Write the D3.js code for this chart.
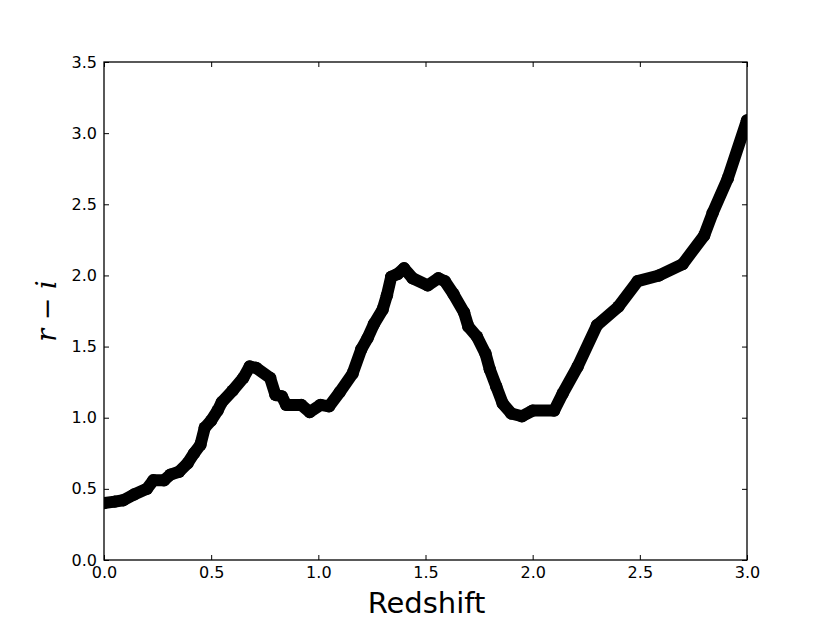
<!DOCTYPE html>
<html><head><meta charset="utf-8">
<script src="https://cdn.jsdelivr.net/npm/d3@7"></script>
<style>body{margin:0;background:#fff}svg{display:block}</style>
</head><body>
<script>
const redshift = [0.00,0.05,0.09,0.14,0.20,0.23,0.28,0.31,0.35,0.39,0.42,0.45,0.47,0.50,0.53,0.55,0.60,0.65,0.68,0.71,0.775,0.80,0.83,0.85,0.92,0.96,1.01,1.05,1.10,1.16,1.20,1.23,1.26,1.30,1.32,1.34,1.37,1.40,1.44,1.51,1.56,1.59,1.63,1.68,1.70,1.74,1.78,1.80,1.83,1.86,1.90,1.95,2.00,2.10,2.14,2.21,2.30,2.40,2.49,2.59,2.70,2.80,2.84,2.91,3.00];
const rMinusI = [0.40,0.41,0.42,0.46,0.50,0.56,0.56,0.60,0.62,0.68,0.75,0.81,0.93,0.98,1.05,1.11,1.19,1.28,1.36,1.35,1.28,1.16,1.15,1.09,1.09,1.04,1.09,1.08,1.18,1.31,1.48,1.56,1.66,1.76,1.86,1.99,2.01,2.05,1.98,1.93,1.98,1.96,1.87,1.74,1.64,1.57,1.45,1.34,1.22,1.10,1.03,1.01,1.05,1.05,1.17,1.36,1.65,1.78,1.96,2.00,2.08,2.28,2.44,2.68,3.09];
const xTicks = [0.0,0.5,1.0,1.5,2.0,2.5,3.0];
const yTicks = [0.0,0.5,1.0,1.5,2.0,2.5,3.0,3.5];

const W = 830, H = 623;
const m = {left:104, right:747, top:62, bottom:560};
const svg = d3.select("body").append("svg").attr("width",W).attr("height",H);
const x = d3.scaleLinear().domain([0,3]).range([m.left,m.right]);
const y = d3.scaleLinear().domain([0,3.5]).range([m.bottom,m.top]);

svg.append("clipPath").attr("id","clip").append("rect")
  .attr("x",m.left).attr("y",m.top).attr("width",m.right-m.left).attr("height",m.bottom-m.top);

const pts = redshift.map((z,i)=>[z,rMinusI[i]]);
const g = svg.append("g").attr("clip-path","url(#clip)");
g.append("path").datum(pts)
  .attr("d", d3.line().x(d=>x(d[0])).y(d=>y(d[1])))
  .attr("fill","none").attr("stroke","#000").attr("stroke-width",12)
  .attr("stroke-linejoin","round").attr("stroke-linecap","round");
g.selectAll("circle").data(pts).enter().append("circle")
  .attr("cx",d=>x(d[0])).attr("cy",d=>y(d[1])).attr("r",6.2).attr("fill","#000");

const font = "DejaVu Sans";
const axB = d3.axisBottom(x).tickValues(xTicks).tickFormat(d3.format(".1f")).tickSizeInner(-5).tickSizeOuter(0).tickPadding(7);
const axT = d3.axisTop(x).tickValues(xTicks).tickFormat("").tickSizeInner(-5).tickSizeOuter(0);
const axL = d3.axisLeft(y).tickValues(yTicks).tickFormat(d3.format(".1f")).tickSizeInner(-5).tickSizeOuter(0).tickPadding(7);
const axR = d3.axisRight(y).tickValues(yTicks).tickFormat("").tickSizeInner(-5).tickSizeOuter(0);

function style(sel){
  sel.select(".domain").remove();
  sel.selectAll("line").attr("stroke","#000").attr("stroke-width",1);
  sel.selectAll("text").attr("font-family",font).attr("font-size",16).attr("fill","#000");
}
svg.append("g").attr("transform",`translate(0,${m.bottom})`).call(axB).call(style);
svg.append("g").attr("transform",`translate(0,${m.top})`).call(axT).call(style);
svg.append("g").attr("transform",`translate(${m.left},0)`).call(axL).call(style);
svg.append("g").attr("transform",`translate(${m.right},0)`).call(axR).call(style);

svg.append("rect").attr("x",m.left).attr("y",m.top).attr("width",m.right-m.left).attr("height",m.bottom-m.top)
  .attr("fill","none").attr("stroke","#000").attr("stroke-width",1.3);

svg.append("text").attr("x",(m.left+m.right)/2+1).attr("y",613).attr("text-anchor","middle")
  .attr("font-family",font).attr("font-size",29).attr("fill","#000").text("Redshift");

const yl = svg.append("text").attr("transform",`translate(56,${(m.top+m.bottom)/2}) rotate(-90)`)
  .attr("text-anchor","middle").attr("font-family","DejaVu Serif").attr("font-size",27).attr("fill","#000");
yl.append("tspan").attr("font-style","italic").text("r");
yl.append("tspan").text(" \u2212 ");
yl.append("tspan").attr("font-style","italic").text("i");
</script>
</body></html>
